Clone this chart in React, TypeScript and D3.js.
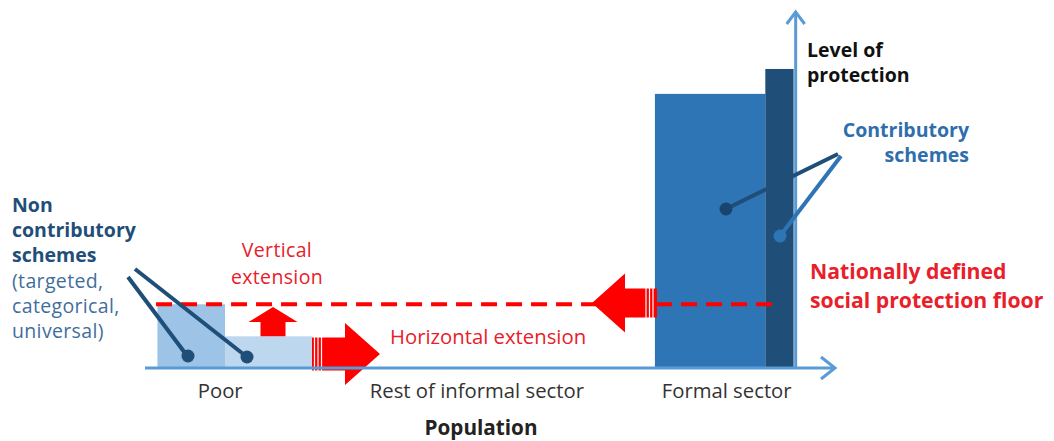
import React from "react";
import * as d3 from "d3";

// ---- data ----
const categories = ["Poor", "Rest of informal sector", "Formal sector"];
const categoryCenters = [10.9, 48.1, 84.3]; // population units
const barNames = ["Non contributory A", "Non contributory B", "Contributory A", "Contributory B"];
const barStart = [1.8, 11.6, 73.9, 89.9];
const barEnd = [11.6, 24.2, 89.9, 94.0];
const barLevel = [17.9, 8.9, 77.0, 84.0];
const floorLevel = 17.9;
const floorStart = 1.6;
const floorEnd = 91.1;

const W = 1054;
const H = 441;

const barColors = ["#9DC3E6", "#BDD7EE", "#2E75B6", "#1F4E79"];
const RED = "#FF0000";
const RED_TEXT = "#E8202A";
const AXIS = "#5B9BD5";
const NAVY = "#1F4E79";
const FONT = "'Open Sans', Lato, sans-serif";

const x = d3.scaleLinear().domain([0, 100]).range([145, 835]);
const y = d3.scaleLinear().domain([0, 100]).range([368, 12]);

type Pt = [number, number];
function hArrow(tail: number, tip: number, cy: number, sh: number, hh: number, hl: number): Pt[] {
  const dir = tip > tail ? 1 : -1;
  const base = tip - dir * hl;
  return [
    [tail, cy - sh],
    [base, cy - sh],
    [base, cy - hh],
    [tip, cy],
    [base, cy + hh],
    [base, cy + sh],
    [tail, cy + sh],
  ];
}
function vArrow(tail: number, tip: number, cx: number, sh: number, hh: number, hl: number): Pt[] {
  const base = tip + hl;
  return [
    [cx - sh, tail],
    [cx - sh, base],
    [cx - hh, base],
    [cx, tip],
    [cx + hh, base],
    [cx + sh, base],
    [cx + sh, tail],
  ];
}
const poly = d3.line<Pt>().curve(d3.curveLinearClosed);

const leftLines = [
  { t: "Non", bold: true, y: 212 },
  { t: "contributory", bold: true, y: 237 },
  { t: "schemes", bold: true, y: 262 },
  { t: "(targeted,", bold: false, y: 288 },
  { t: "categorical,", bold: false, y: 313 },
  { t: "universal)", bold: false, y: 338 },
];

export default function App() {
  const x0 = x(0);
  const axisY = y(0);
  const yAxisX = x(94.3);
  const floorY = y(floorLevel);

  const rightArrow = hArrow(312, 380, 354, 16.5, 31, 35);
  const leftArrow = hArrow(657, 592, 303, 14.5, 29.5, 33);
  const upArrow = vArrow(y(barLevel[1]), 307, 273, 12.5, 24.5, 15);

  return (
    <svg width={W} height={H} style={{ position: "absolute", left: 0, top: 0, background: "#fff" }} fontFamily={FONT}>
      <rect width={W} height={H} fill="#fff" />
      {barNames.map((n, i) => (
        <rect
          key={n}
          x={x(barStart[i])}
          y={y(barLevel[i])}
          width={x(barEnd[i]) - x(barStart[i])}
          height={axisY - y(barLevel[i])}
          fill={barColors[i]}
        />
      ))}
      {/* floor */}
      <line x1={x(floorStart)} x2={x(floorEnd)} y1={floorY} y2={floorY} stroke={RED} strokeWidth={4} strokeDasharray="16 9" />
      {/* arrows */}
      <path d={poly(rightArrow)!} fill={RED} />
      <path d={poly(leftArrow)!} fill={RED} />
      <path d={poly(upArrow)!} fill={RED} />
      {[314.5, 318, 321.5].map((sx) => (
        <line key={sx} x1={sx} x2={sx} y1={337} y2={371} stroke="#fff" strokeWidth={1.2} />
      ))}
      {[646, 649.5, 653].map((sx) => (
        <line key={sx} x1={sx} x2={sx} y1={288} y2={318} stroke="#fff" strokeWidth={1.2} />
      ))}
      {/* axes */}
      <line x1={x0} x2={x(100)} y1={axisY} y2={axisY} stroke={AXIS} strokeWidth={3} />
      <path d={`M${x(100) - 14},${axisY - 11} L${x(100)},${axisY} L${x(100) - 14},${axisY + 11}`} fill="none" stroke={AXIS} strokeWidth={3} />
      <line x1={yAxisX} x2={yAxisX} y1={axisY + 1} y2={y(100)} stroke={AXIS} strokeWidth={3} />
      <path d={`M${yAxisX - 9},${y(100) + 12} L${yAxisX},${y(100)} L${yAxisX + 9},${y(100) + 12}`} fill="none" stroke={AXIS} strokeWidth={3} />

      {/* pointers poor */}
      <line x1={128} y1={277} x2={188} y2={357} stroke={NAVY} strokeWidth={4} />
      <line x1={135} y1={269} x2={247} y2={357} stroke={NAVY} strokeWidth={4} />
      <circle cx={188} cy={356} r={6.5} fill={NAVY} />
      <circle cx={247} cy={357} r={6.5} fill={NAVY} />
      {/* pointers contributory */}
      <line x1={838} y1={154} x2={726} y2={209} stroke={NAVY} strokeWidth={4} />
      <line x1={841} y1={156} x2={780} y2={236} stroke="#2E75B6" strokeWidth={4} />
      <circle cx={726} cy={209} r={6.5} fill="#1A446D" />
      <circle cx={780} cy={236} r={6.5} fill="#2E75B6" />

      {/* texts */}
      <g fontSize={20.3} fill="#333">
        {categories.map((c, i) => (
          <text key={c} x={x(categoryCenters[i])} y={398} textAnchor="middle">{c}</text>
        ))}
      </g>
      <text x={481} y={435} textAnchor="middle" fontSize={20.7} fontWeight="bold" fill="#222">Population</text>

      <g fontSize={19.5} fontWeight="bold" fill="#111">
        <text x={807} y={57}>Level of</text>
        <text x={807} y={82}>protection</text>
      </g>
      <g fontSize={19.5} fontWeight="bold" fill="#2E6EAD" textAnchor="end">
        <text x={969} y={137}>Contributory</text>
        <text x={969} y={162}>schemes</text>
      </g>
      <g fontSize={21.2} fontWeight="bold" fill={RED_TEXT}>
        <text x={810} y={279}>Nationally defined</text>
        <text x={810} y={308}>social protection floor</text>
      </g>
      <text fontSize={19.5}>
        {leftLines.map((l) => (
          <tspan
            key={l.t}
            x={12}
            y={l.y}
            fontWeight={l.bold ? "bold" : "normal"}
            fill={l.bold ? NAVY : "#3F6E9C"}
            letterSpacing={l.bold ? 0 : 0.35}
          >
            {l.t}
          </tspan>
        ))}
      </text>
      <g fontSize={19.5} fill={RED_TEXT} textAnchor="middle" letterSpacing={0.35}>
        <text x={277} y={257}>Vertical</text>
        <text x={277} y={284}>extension</text>
      </g>
      <text x={390} y={344} fontSize={20.3} fill={RED_TEXT}>Horizontal extension</text>
    </svg>
  );
}
